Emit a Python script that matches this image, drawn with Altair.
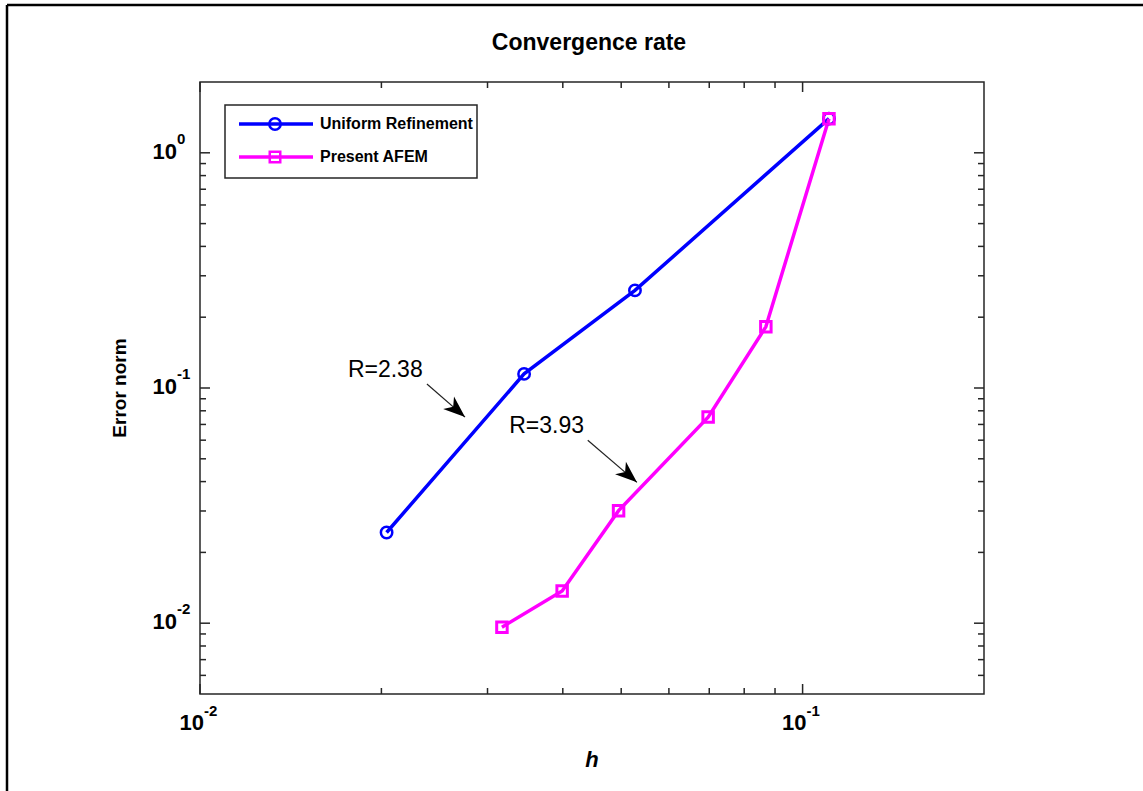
import altair as alt
import pandas as pd

# ---------------- data ----------------
series_names = ["Uniform Refinement", "Present AFEM"]
series_colors = ["#0000ff", "#ff00ff"]

uniform_h = [0.0204, 0.0345, 0.0527, 0.1106]
uniform_err = [0.0243, 0.1148, 0.260, 1.397]

afem_h = [0.0317, 0.0399, 0.0495, 0.0697, 0.0869, 0.1106]
afem_err = [0.00962, 0.0137, 0.0301, 0.0752, 0.182, 1.397]

x_major = [0.01, 0.1]
x_major_exp = ["-2", "-1"]
x_minor = [0.02, 0.03, 0.04, 0.05, 0.06, 0.07, 0.08, 0.09]
y_major = [0.01, 0.1, 1.0]
y_major_exp = ["-2", "-1", "0"]
y_minor = [0.006, 0.007, 0.008, 0.009,
           0.02, 0.03, 0.04, 0.05, 0.06, 0.07, 0.08, 0.09,
           0.2, 0.3, 0.4, 0.5, 0.6, 0.7, 0.8, 0.9]

ann_text = ["R=2.38", "R=3.93"]
ann_text_h = [0.0203, 0.0376]
ann_text_err = [0.1194, 0.0688]
ann_start_h = [0.0238, 0.0440]
ann_start_err = [0.1040, 0.0600]
ann_tip_h = [0.02753, 0.0531]
ann_tip_err = [0.0752, 0.0397]
ann_angle = [41, 41]

title_text = "Convergence rate"
x_title = "h"
y_title = "Error norm"

X_DOMAIN = [0.01, 0.2]
Y_DOMAIN = [0.005, 2.0]

W, H = 784, 612
FONT = "Liberation Sans"
AXC = "#262626"

xs = alt.Scale(type="log", domain=X_DOMAIN, nice=False)
ys = alt.Scale(type="log", domain=Y_DOMAIN, nice=False)

df_u = pd.DataFrame({"h": uniform_h, "err": uniform_err})
df_a = pd.DataFrame({"h": afem_h, "err": afem_err})

X = alt.X("h:Q", scale=xs, axis=None)
Y = alt.Y("err:Q", scale=ys, axis=None)

line_u = alt.Chart(df_u).mark_line(color=series_colors[0], strokeWidth=3.5).encode(x=X, y=Y)
pts_u = alt.Chart(df_u).mark_point(shape="circle", filled=False, color=series_colors[0],
                                   size=130, strokeWidth=2.5, opacity=1).encode(x="h:Q", y="err:Q")
line_a = alt.Chart(df_a).mark_line(color=series_colors[1], strokeWidth=3.5).encode(x="h:Q", y="err:Q")
pts_a = alt.Chart(df_a).mark_point(shape="square", filled=False, color=series_colors[1],
                                   size=110, strokeWidth=3, opacity=1).encode(x="h:Q", y="err:Q")

# ---------- ticks (inside, MATLAB style) ----------
dy_major = pd.DataFrame({"err": y_major, "exp": y_major_exp})
dy_minor = pd.DataFrame({"err": y_minor})
dx_major = pd.DataFrame({"h": x_major, "exp": x_major_exp})
dx_minor = pd.DataFrame({"h": x_minor})

def yticks(df, length):
    left = alt.Chart(df).mark_rule(color=AXC, strokeWidth=1.5).encode(
        y="err:Q", x=alt.value(0), x2=alt.value(length))
    right = alt.Chart(df).mark_rule(color=AXC, strokeWidth=1.5).encode(
        y="err:Q", x=alt.value(W), x2=alt.value(W - length))
    return left + right

def xticks(df, length):
    bottom = alt.Chart(df).mark_rule(color=AXC, strokeWidth=1.5).encode(
        x="h:Q", y=alt.value(H), y2=alt.value(H - length))
    top = alt.Chart(df).mark_rule(color=AXC, strokeWidth=1.5).encode(
        x="h:Q", y=alt.value(0), y2=alt.value(length))
    return bottom + top

ticks = yticks(dy_major, 10) + yticks(dy_minor, 6) + xticks(dx_major, 10) + xticks(dx_minor, 6)

# ---------- tick labels 10^n ----------
ylab_base = alt.Chart(dy_major).mark_text(align="right", baseline="middle", font=FONT,
                                          fontSize=22, fontWeight="bold", color="black", dy=-1).encode(
    y="err:Q", x=alt.value(-23), text=alt.value("10"))
ylab_exp = alt.Chart(dy_major).mark_text(align="left", baseline="middle", font=FONT,
                                         fontSize=15, fontWeight="bold", color="black", dy=-14).encode(
    y="err:Q", x=alt.value(-23), text="exp:N")
xlab_base = alt.Chart(dx_major).mark_text(align="right", baseline="middle", font=FONT,
                                          fontSize=22, fontWeight="bold", color="black", dx=4).encode(
    x="h:Q", y=alt.value(H + 29), text=alt.value("10"))
xlab_exp = alt.Chart(dx_major).mark_text(align="left", baseline="middle", font=FONT,
                                         fontSize=15, fontWeight="bold", color="black", dx=4).encode(
    x="h:Q", y=alt.value(H + 17), text="exp:N")

# ---------- titles ----------
one = pd.DataFrame({"a": [0]})
title_mark = alt.Chart(one).mark_text(font=FONT, fontSize=23, fontWeight="bold", color="black",
                                      align="center", baseline="middle").encode(
    x=alt.value(W / 2 - 3), y=alt.value(-39), text=alt.value(title_text))
xtitle_mark = alt.Chart(one).mark_text(font=FONT, fontSize=22, fontStyle="italic", fontWeight="bold",
                                       color="black", align="center", baseline="middle").encode(
    x=alt.value(W / 2), y=alt.value(H + 66), text=alt.value(x_title))
ytitle_mark = alt.Chart(one).mark_text(font=FONT, fontSize=19, fontWeight="bold", color="black",
                                       align="center", baseline="middle", angle=270).encode(
    x=alt.value(-80), y=alt.value(H / 2), text=alt.value(y_title))

# ---------- annotations ----------
df_ann = pd.DataFrame({"t": ann_text, "th": ann_text_h, "te": ann_text_err,
                       "sh": ann_start_h, "se": ann_start_err,
                       "eh": ann_tip_h, "ee": ann_tip_err, "ang": ann_angle})
ann_txt = alt.Chart(df_ann).mark_text(font=FONT, fontSize=23, color="black",
                                      baseline="middle", align="center").encode(
    x=alt.X("th:Q"), y=alt.Y("te:Q"), text="t:N")
ann_shaft = alt.Chart(df_ann).mark_rule(color="#222", strokeWidth=1.2).encode(
    x="sh:Q", y="se:Q", x2="eh:Q", y2="ee:Q")
ARROW = "M0,0L-1,-0.38L-0.72,0L-1,0.38Z"
ann_head = alt.Chart(df_ann).mark_point(shape=ARROW, filled=True, color="black",
                                        size=1900, opacity=1).encode(
    x="eh:Q", y="ee:Q", angle=alt.Angle("ang:Q", scale=None))

# ---------- legend (manual, MATLAB style) ----------
LX0, LY0, LX1, LY1 = 25, 23, 277, 96
legend_box = alt.Chart(one).mark_rect(
    fill="white", stroke=AXC, strokeWidth=1.5).encode(
    x=alt.value(LX0), x2=alt.value(LX1), y=alt.value(LY0), y2=alt.value(LY1))
leg_layers = []
row_y = [42, 75]
shapes = ["circle", "square"]
sizes = [130, 110]
for i, name in enumerate(series_names):
    d = pd.DataFrame({"name": [name]})
    leg_layers.append(alt.Chart(d).mark_rule(color=series_colors[i], strokeWidth=3.5).encode(
        x=alt.value(39), x2=alt.value(113), y=alt.value(row_y[i])))
    leg_layers.append(alt.Chart(d).mark_point(shape=shapes[i], filled=False, color=series_colors[i],
                                              size=sizes[i], strokeWidth=2.5, opacity=1).encode(
        x=alt.value(75), y=alt.value(row_y[i])))
    leg_layers.append(alt.Chart(d).mark_text(align="left", baseline="middle", font=FONT,
                                             fontSize=16, fontWeight="bold", color="black").encode(
        x=alt.value(120), y=alt.value(row_y[i]), text="name:N"))

# ---------- outer figure border (top and left edges) ----------
border_top = alt.Chart(one).mark_rule(color="black", strokeWidth=2.5).encode(
    x=alt.value(-193), x2=alt.value(1143 - 200 + 10), y=alt.value(-77))
border_left = alt.Chart(one).mark_rule(color="black", strokeWidth=2.5).encode(
    x=alt.value(-193), y=alt.value(-77), y2=alt.value(791 - 82 + 10))

chart = alt.layer(
    line_u, line_a, ticks,
    ylab_base, ylab_exp, xlab_base, xlab_exp,
    title_mark, xtitle_mark, ytitle_mark,
    ann_shaft, ann_head, ann_txt,
    pts_u, pts_a,
    legend_box, *leg_layers,
    border_top, border_left,
).properties(
    width=W, height=H,
    autosize=alt.AutoSizeParams(type="none"),
    padding={"left": 200, "top": 82, "right": 159, "bottom": 97},
).configure(background="white").configure_view(stroke=AXC, strokeWidth=1.5)

chart.save("out.html", embed_options={"renderer": "svg", "actions": False})
